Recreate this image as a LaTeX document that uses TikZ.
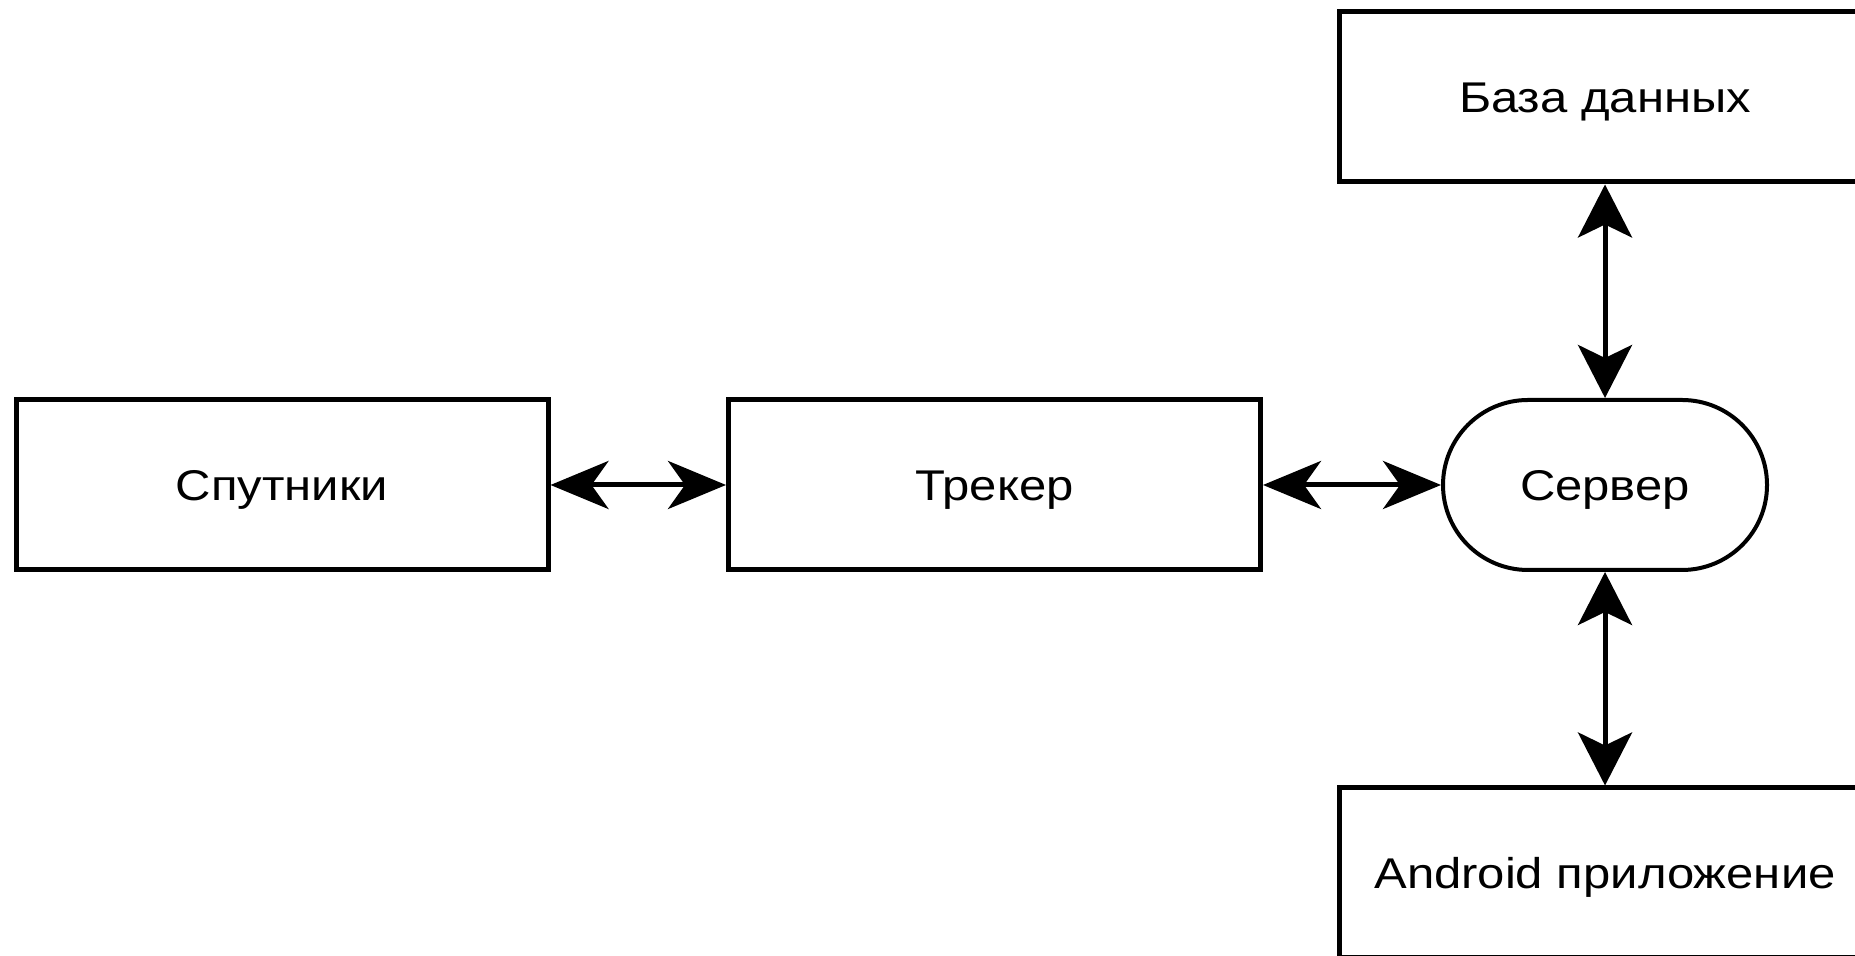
\documentclass[tikz,border=0pt]{standalone}
\usepackage{fontspec}
\newfontfamily\labelfont{Liberation Sans}[FakeStretch=1.14]
\usetikzlibrary{arrows.meta}
\newcommand{\pixelsize}{0.5pt}

\begin{document}
\begin{tikzpicture}[x=\pixelsize,y=\pixelsize,
	block/.style={draw, line width=2.5pt, minimum width=266pt, minimum height=85pt,
		inner sep=0pt, font=\labelfont\fontsize{21.5}{26}\selectfont,
		text height=15.4pt, text depth=0pt},
	server/.style={block, line width=2pt, minimum width=162pt, rounded corners=42.5pt},
	hlink/.style={line width=2.5pt,
		{Stealth[length=29pt,width=24pt,inset=8.5pt]}-{Stealth[length=29pt,width=24pt,inset=8.5pt]}},
	vlink/.style={line width=2.5pt,
		{Stealth[length=26.5pt,width=27pt,inset=6.5pt]}-{Stealth[length=26.5pt,width=27pt,inset=6.5pt]}}]
	\clip (0,0) rectangle (1855,956);

	\node[block] (sat) at (282,471) {Спутники};
	\node[block] (trk) at (994.5,471) {Трекер};
	\node[server] (srv) at (1605,471) {Сервер};
	\node[block] (db) at (1605,859) {База данных};
	\node[block] (app) at (1605,83) {Android приложение};

	\draw[hlink] (sat) -- (trk);
	\draw[hlink] (trk) -- (srv);
	\draw[vlink] (srv) -- (db);
	\draw[vlink] (srv) -- (app);
\end{tikzpicture}
\end{document}
